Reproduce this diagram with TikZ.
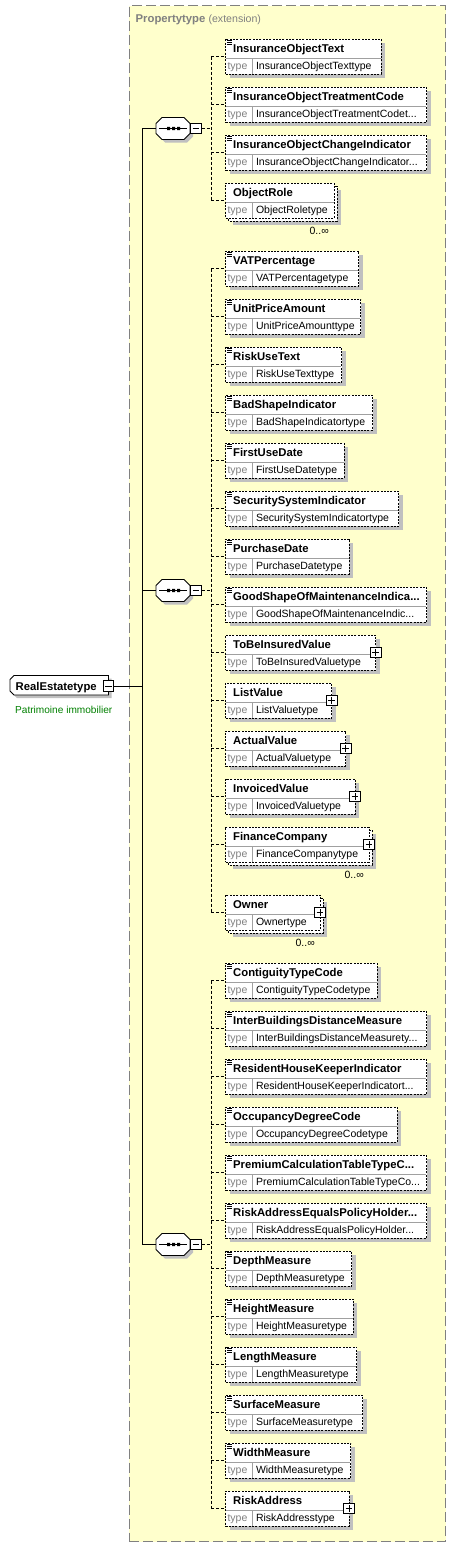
\documentclass[tikz,border=0pt]{standalone}
\usepackage{fontspec}
\setmainfont{Liberation Sans}
\usetikzlibrary{calc}
\definecolor{yel}{RGB}{255,255,204}
\definecolor{shadowc}{RGB}{192,192,192}
\definecolor{graytxt}{RGB}{128,128,128}
\definecolor{sepc}{RGB}{160,160,160}
\definecolor{grn}{RGB}{0,128,0}
\newcommand\nmfont{\fontsize{11.3}{13}\selectfont\bfseries}
\newcommand\tyfont{\fontsize{10.5}{12}\selectfont}
% #1 id, #2 top, #3 right, #4 name, #5 type, #6 icon, #7 plus, #8 multiple
\newcommand\elem[8]{%
  \ifnum#8=1\relax
    \fill[shadowc] (232.5,{#2+7}) rectangle ({#3+7},{#2+42});
    \draw[elborder,fill=white] (228.5,{#2+3}) rectangle ({#3+3},{#2+38});
    \node[mult,anchor=east] (#1m) at ({#3-5},{#2+48}) {0..∞};
  \else
    \fill[shadowc] (229.5,{#2+4}) rectangle ({#3+4},{#2+39});
  \fi
  \node[elbox,minimum width={#3-225.5},anchor=north west] (#1) at (225.5,#2) {};
  \draw[sepline] (226,{#2+19}) -- ({#3-0.5},{#2+19});
  \draw[sepline] (252,{#2+19}) -- (252,{#2+34.5});
  \node[nmtext,anchor=base west] (#1n) at (233,{#2+13.5}) {#4};
  \node[tylbl,anchor=base west] (#1l) at (227.3,{#2+30.5}) {type};
  \node[tytext,anchor=base west] (#1t) at (255.8,{#2+30.5}) {#5};
  \ifnum#6=1\relax
    \draw[line width=0.7pt] (226.5,{#2+1.3}) -- (231.5,{#2+1.3})
      (226.5,{#2+3.2}) -- (231.5,{#2+3.2}) (226.5,{#2+5.1}) -- (231.5,{#2+5.1});
  \fi
  \ifnum#7=1\relax
    \node[plusbox] (#1p) at (#3,{#2+17.5}) {};
  \fi
}
% sequence compositor: #1 id, #2 centre y
\newcommand\seqc[2]{%
  \fill[shadowc,shift={(3,3)}] (156,{#2-5}) -- (162,{#2-11}) -- (184,{#2-11}) -- (190,{#2-5})
     -- (190,{#2+5}) -- (184,{#2+11}) -- (162,{#2+11}) -- (156,{#2+5}) -- cycle;
  \draw[line width=0.9pt,fill=white] (156,{#2-5}) -- (162,{#2-11}) -- (184,{#2-11}) -- (190,{#2-5})
     -- (190,{#2+5}) -- (184,{#2+11}) -- (162,{#2+11}) -- (156,{#2+5}) -- cycle;
  \node[inner sep=0pt,minimum width=34,minimum height=22] (#1) at (173,#2) {};
  \draw[line width=0.9pt] (159,#2) -- (187,#2);
  \fill (167,{#2-1.6}) rectangle (170.2,{#2+1.6})
        (172,{#2-1.6}) rectangle (175.2,{#2+1.6})
        (177,{#2-1.6}) rectangle (180.2,{#2+1.6});
  \node[minusbox] (#1m) at (196,#2) {};
}
\begin{document}
\begin{tikzpicture}[x=1pt,y=-1pt,
  elbox/.style={draw,line width=0.9pt,dash pattern=on 2pt off 1.3pt,fill=white,
    minimum height=35,inner sep=0pt,outer sep=0pt},
  elborder/.style={line width=0.9pt,dash pattern=on 2pt off 1.3pt},
  sepline/.style={draw=sepc,line width=0.8pt},
  nmtext/.style={inner sep=0pt,font=\nmfont},
  tylbl/.style={inner sep=0pt,font=\tyfont,text=graytxt},
  tytext/.style={inner sep=0pt,font=\tyfont},
  mult/.style={inner sep=0pt,font=\fontsize{10.5}{12}\selectfont},
  pmbox/.style={draw,fill=white,line width=0.8pt,minimum size=10.5,inner sep=0pt},
  plusbox/.style={pmbox,path picture={\draw[line width=0.8pt]
    ([xshift=-3.3pt]path picture bounding box.center) -- ([xshift=3.3pt]path picture bounding box.center)
    ([yshift=-3.3pt]path picture bounding box.center) -- ([yshift=3.3pt]path picture bounding box.center);}},
  minusbox/.style={pmbox,path picture={\draw[line width=0.8pt]
    ([xshift=-3.3pt]path picture bounding box.center) -- ([xshift=3.3pt]path picture bounding box.center);}},
  conn/.style={line width=0.9pt,dash pattern=on 3pt off 2pt},
  solidconn/.style={line width=0.9pt},
  ybox/.style={draw=graytxt,fill=yel,line width=1.2pt,dash pattern=on 10pt off 4pt,inner sep=0pt}
]
\useasboundingbox (0,0) rectangle (455,1547);
\fill[white] (0,0) rectangle (455,1547);
% extension container
\node[ybox,minimum width=316.5,minimum height=1536,anchor=north west] (ext) at (128.5,5) {};
\node[anchor=base west,inner sep=0pt,text=graytxt] (title) at (135.5,22.5)
  {\fontsize{11.3}{13}\selectfont\bfseries Propertytype\ \mdseries\fontsize{10.6}{12}\selectfont(extension)};

% root element
\fill[shadowc,shift={(3,3)}] (10,679.5) -- (14,675.5) -- (108.5,675.5) -- (108.5,695) -- (14,695) -- (10,691) -- cycle;
\draw[line width=0.9pt,fill=white] (10,679.5) -- (14,675.5) -- (108.5,675.5) -- (108.5,695) -- (14,695) -- (10,691) -- cycle;
\node[inner sep=0pt,minimum width=98.5,minimum height=19.5,anchor=north west] (root) at (10,675.5) {};
\node[nmtext,anchor=base west] (rootn) at (15.5,690) {RealEstatetype};
\node[minusbox] (rootm) at (108.5,686) {};
\node[anchor=base west,inner sep=0pt,text=grn,font=\fontsize{10.1}{12}\selectfont] (rootd) at (15,713.5) {Patrimoine immobilier};

% compositors
\seqc{s1}{128.5}
\seqc{s2}{590.5}
\seqc{s3}{1244.5}

\coordinate (main) at (142,686);
\draw[solidconn] (rootm.east) -- (main |- rootm.east);
\draw[solidconn] (main |- s1.west) -- (main |- s3.west);
\foreach \s in {s1,s2,s3} {\draw[solidconn] (main |- \s.west) -- (\s.west);}

% group 1
\elem{e1}{39}{381}{InsuranceObjectText}{InsuranceObjectTexttype}{1}{0}{0}
\elem{e2}{87}{426.5}{InsuranceObjectTreatmentCode}{InsuranceObjectTreatmentCodet...}{1}{0}{0}
\elem{e3}{135}{426.5}{InsuranceObjectChangeIndicator}{InsuranceObjectChangeIndicator...}{1}{0}{0}
\elem{e4}{183}{334}{ObjectRole}{ObjectRoletype}{0}{0}{1}
% group 2
\elem{e5}{251}{358.7}{VATPercentage}{VATPercentagetype}{1}{0}{0}
\elem{e6}{299}{360.7}{UnitPriceAmount}{UnitPriceAmounttype}{1}{0}{0}
\elem{e7}{347}{341.7}{RiskUseText}{RiskUseTexttype}{1}{0}{0}
\elem{e8}{395}{372.7}{BadShapeIndicator}{BadShapeIndicatortype}{1}{0}{0}
\elem{e9}{443}{344}{FirstUseDate}{FirstUseDatetype}{1}{0}{0}
\elem{e10}{491}{398.7}{SecuritySystemIndicator}{SecuritySystemIndicatortype}{1}{0}{0}
\elem{e11}{539}{349}{PurchaseDate}{PurchaseDatetype}{1}{0}{0}
\elem{e12}{587}{426.5}{GoodShapeOfMaintenanceIndica...}{GoodShapeOfMaintenanceIndic...}{1}{0}{0}
\elem{e13}{635}{375.7}{ToBeInsuredValue}{ToBeInsuredValuetype}{0}{1}{0}
\elem{e14}{683}{331.7}{ListValue}{ListValuetype}{0}{1}{0}
\elem{e15}{731}{345.7}{ActualValue}{ActualValuetype}{0}{1}{0}
\elem{e16}{779}{355}{InvoicedValue}{InvoicedValuetype}{0}{1}{0}
\elem{e17}{827}{369}{FinanceCompany}{FinanceCompanytype}{0}{1}{1}
\elem{e18}{895}{320}{Owner}{Ownertype}{0}{1}{1}
% group 3
\elem{e19}{963}{377}{ContiguityTypeCode}{ContiguityTypeCodetype}{1}{0}{0}
\elem{e20}{1011}{426.5}{InterBuildingsDistanceMeasure}{InterBuildingsDistanceMeasurety...}{1}{0}{0}
\elem{e21}{1059}{426.5}{ResidentHouseKeeperIndicator}{ResidentHouseKeeperIndicatort...}{1}{0}{0}
\elem{e22}{1107}{397}{OccupancyDegreeCode}{OccupancyDegreeCodetype}{1}{0}{0}
\elem{e23}{1155}{426.5}{PremiumCalculationTableTypeC...}{PremiumCalculationTableTypeCo...}{1}{0}{0}
\elem{e24}{1203}{426.5}{RiskAddressEqualsPolicyHolder...}{RiskAddressEqualsPolicyHolder...}{1}{0}{0}
\elem{e25}{1251}{351.7}{DepthMeasure}{DepthMeasuretype}{1}{0}{0}
\elem{e26}{1299}{353}{HeightMeasure}{HeightMeasuretype}{1}{0}{0}
\elem{e27}{1347}{356.7}{LengthMeasure}{LengthMeasuretype}{1}{0}{0}
\elem{e28}{1395}{362.7}{SurfaceMeasure}{SurfaceMeasuretype}{1}{0}{0}
\elem{e29}{1443}{350.7}{WidthMeasure}{WidthMeasuretype}{1}{0}{0}
\elem{e30}{1491}{349}{RiskAddress}{RiskAddresstype}{0}{1}{0}

% sequence connectors
\coordinate (bus1) at (211,128.5);
\coordinate (bus2) at (211,590.5);
\coordinate (bus3) at (211,1244.5);
\draw[conn] (s1m.east) -- (bus1);
\draw[conn] (s2m.east) -- (bus2);
\draw[conn] (s3m.east) -- (bus3);
\draw[conn] (bus1 |- e1.west) -- (bus1 |- e4.west);
\draw[conn] (bus2 |- e5.west) -- (bus2 |- e18.west);
\draw[conn] (bus3 |- e19.west) -- (bus3 |- e30.west);
\foreach \i in {1,...,4} {\draw[conn] (bus1 |- e\i.west) -- (e\i.west);}
\foreach \i in {5,...,18} {\draw[conn] (bus2 |- e\i.west) -- (e\i.west);}
\foreach \i in {19,...,30} {\draw[conn] (bus3 |- e\i.west) -- (e\i.west);}
\end{tikzpicture}
\end{document}
